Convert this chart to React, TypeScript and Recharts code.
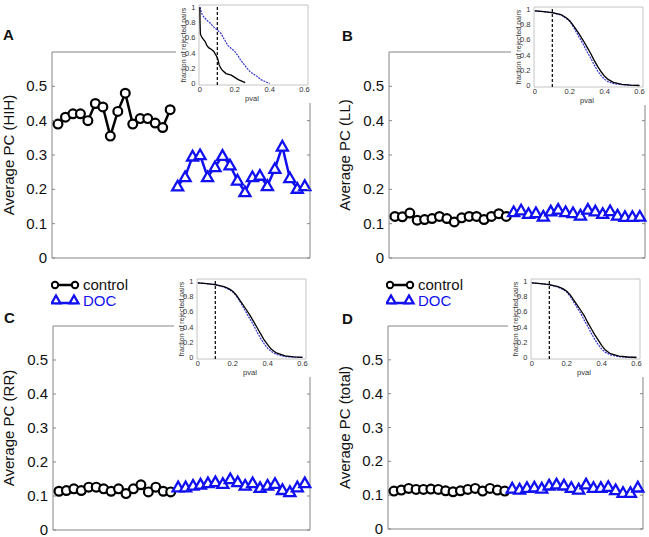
import React from "react";
import { LineChart, Line, XAxis, YAxis, ReferenceArea, ReferenceLine } from "recharts";

// ── Main panel values (average PC per recording) ───────────────────

const controlHIH = [0.39, 0.41, 0.42, 0.42, 0.4, 0.45, 0.44, 0.355, 0.427, 0.48, 0.39, 0.406, 0.406, 0.393, 0.38, 0.432];
const docHIH = [0.209, 0.236, 0.296, 0.3, 0.236, 0.265, 0.298, 0.27, 0.226, 0.192, 0.236, 0.24, 0.21, 0.26, 0.325, 0.233, 0.202, 0.21];

const controlLL = [0.121, 0.12, 0.131, 0.11, 0.112, 0.115, 0.121, 0.115, 0.105, 0.117, 0.121, 0.121, 0.112, 0.121, 0.129, 0.121];
const docLL = [0.134, 0.139, 0.129, 0.131, 0.121, 0.136, 0.141, 0.134, 0.131, 0.124, 0.141, 0.136, 0.129, 0.137, 0.124, 0.12, 0.12, 0.121];

const controlRR = [0.114, 0.116, 0.121, 0.116, 0.126, 0.126, 0.121, 0.114, 0.121, 0.107, 0.121, 0.133, 0.112, 0.126, 0.114, 0.112];
const docRR = [0.126, 0.126, 0.131, 0.134, 0.138, 0.141, 0.136, 0.15, 0.141, 0.131, 0.138, 0.124, 0.131, 0.136, 0.118, 0.112, 0.126, 0.138];

const controlTotal = [0.112, 0.115, 0.12, 0.117, 0.117, 0.118, 0.117, 0.113, 0.11, 0.113, 0.117, 0.12, 0.112, 0.12, 0.115, 0.112];
const docTotal = [0.12, 0.117, 0.122, 0.123, 0.12, 0.129, 0.132, 0.129, 0.122, 0.117, 0.132, 0.122, 0.122, 0.125, 0.115, 0.107, 0.107, 0.123];

const yTicks = [0, 0.1, 0.2, 0.3, 0.4, 0.5];

// ── Inset curves: [pval, fraction of rejected pairs] ───────────────

const insetHIHControl = [[0, 1], [0.001, 0.8], [0.003, 0.65], [0.01, 0.61], [0.02, 0.58], [0.03, 0.55], [0.04, 0.5], [0.05, 0.47], [0.065, 0.45], [0.08, 0.42], [0.09, 0.38], [0.1, 0.34], [0.105, 0.3], [0.11, 0.25], [0.12, 0.2], [0.13, 0.17], [0.15, 0.13], [0.18, 0.11], [0.2, 0.08], [0.22, 0.05], [0.24, 0.03], [0.26, 0.01]];
const insetHIHDoc = [[0, 1], [0.01, 0.92], [0.02, 0.88], [0.04, 0.83], [0.06, 0.79], [0.08, 0.74], [0.1, 0.7], [0.12, 0.66], [0.14, 0.58], [0.16, 0.5], [0.18, 0.46], [0.2, 0.42], [0.22, 0.36], [0.23, 0.32], [0.25, 0.26], [0.27, 0.2], [0.29, 0.15], [0.31, 0.12], [0.33, 0.09], [0.35, 0.05], [0.37, 0.03], [0.39, 0.01], [0.4, 0]];

const insetLLControl = [[0, 0.98], [0.05, 0.97], [0.1, 0.955], [0.15, 0.93], [0.18, 0.89], [0.2, 0.85], [0.22, 0.79], [0.25, 0.69], [0.28, 0.58], [0.3, 0.5], [0.32, 0.42], [0.34, 0.33], [0.36, 0.25], [0.38, 0.18], [0.4, 0.12], [0.42, 0.08], [0.45, 0.04], [0.5, 0.015], [0.55, 0.005], [0.6, 0]];
const insetLLDoc = [[0, 0.98], [0.05, 0.97], [0.1, 0.955], [0.15, 0.925], [0.18, 0.88], [0.2, 0.84], [0.22, 0.77], [0.25, 0.65], [0.28, 0.53], [0.3, 0.44], [0.32, 0.36], [0.34, 0.27], [0.36, 0.19], [0.38, 0.13], [0.4, 0.08], [0.42, 0.05], [0.45, 0.025], [0.5, 0.01], [0.55, 0.003], [0.6, 0]];

const insetRRControl = [[0, 0.98], [0.05, 0.97], [0.1, 0.955], [0.15, 0.93], [0.18, 0.9], [0.2, 0.87], [0.22, 0.82], [0.25, 0.72], [0.28, 0.62], [0.3, 0.55], [0.32, 0.47], [0.34, 0.39], [0.36, 0.31], [0.38, 0.23], [0.4, 0.17], [0.42, 0.11], [0.45, 0.06], [0.5, 0.02], [0.55, 0.007], [0.6, 0]];
const insetRRDoc = [[0, 0.98], [0.05, 0.97], [0.1, 0.955], [0.15, 0.925], [0.18, 0.89], [0.2, 0.86], [0.22, 0.81], [0.25, 0.7], [0.28, 0.58], [0.3, 0.5], [0.32, 0.42], [0.34, 0.33], [0.36, 0.25], [0.38, 0.18], [0.4, 0.12], [0.42, 0.08], [0.45, 0.04], [0.5, 0.012], [0.55, 0.004], [0.6, 0]];

const insetTotalControl = [[0, 0.98], [0.05, 0.97], [0.1, 0.955], [0.15, 0.93], [0.18, 0.9], [0.2, 0.87], [0.22, 0.82], [0.25, 0.72], [0.28, 0.62], [0.3, 0.55], [0.32, 0.46], [0.34, 0.38], [0.36, 0.3], [0.38, 0.23], [0.4, 0.16], [0.42, 0.1], [0.45, 0.05], [0.5, 0.018], [0.55, 0.006], [0.6, 0]];
const insetTotalDoc = [[0, 0.98], [0.05, 0.97], [0.1, 0.955], [0.15, 0.925], [0.18, 0.89], [0.2, 0.86], [0.22, 0.8], [0.25, 0.69], [0.28, 0.58], [0.3, 0.49], [0.32, 0.41], [0.34, 0.32], [0.36, 0.24], [0.38, 0.17], [0.4, 0.11], [0.42, 0.07], [0.45, 0.035], [0.5, 0.01], [0.55, 0.003], [0.6, 0]];

const insetXTicks = [0, 0.2, 0.4, 0.6];
const insetYTicks = [0, 0.2, 0.4, 0.6, 0.8, 1];

const FONT = "'Liberation Sans', Arial, Helvetica, sans-serif";
const BLUE = "#1010f0";
const AXIS = "#858585";

// ── Markers ────────────────────────────────────────────────────────

function triangle(cx: number, cy: number, hw: number, key?: any) {
  return (
    <polygon
      key={key}
      points={`${cx - hw},${cy + hw * 0.75} ${cx + hw},${cy + hw * 0.75} ${cx},${cy - hw}`}
      fill="#fff"
      stroke={BLUE}
      strokeWidth={2.3}
      strokeLinejoin="miter"
    />
  );
}

// ── Main panel ─────────────────────────────────────────────────────

function MainPanel({ chartLeft, plotLeft, plotTop, plotW, plotH, control, doc, yLabel, labelX }: any) {
  const YW = plotLeft - chartLeft;
  const MT = 5;
  const MB = 10;
  const pl = YW, pr = YW + plotW, pt = MT, pb = MT + plotH;
  const ctrlRows = control.map((v: number, i: number) => ({ x: i + 1, y: v }));
  const docRows = doc.map((v: number, i: number) => ({ x: control.length + i + 1, y: v }));
  const xTicks = [...ctrlRows, ...docRows].map((d) => d.x);

  const xTick = (p: any) => (
    <g>
      <line x1={p.x} x2={p.x} y1={pb} y2={pb - 3} stroke={AXIS} />
      <line x1={p.x} x2={p.x} y1={pt} y2={pt + 3} stroke={AXIS} />
    </g>
  );
  const yTick = (p: any) => (
    <g>
      <line x1={pl} x2={pl + 3} y1={p.y} y2={p.y} stroke={AXIS} />
      <line x1={pr} x2={pr - 3} y1={p.y} y2={p.y} stroke={AXIS} />
      <text x={pl - 5} y={p.y + 5} textAnchor="end" fontSize={15} fill="#111" fontFamily={FONT}>
        {p.payload.value}
      </text>
    </g>
  );

  return (
    <div style={{ position: "absolute", left: chartLeft, top: plotTop - MT }}>
      <LineChart width={plotW + YW + 5} height={plotH + MT + MB} margin={{ top: MT, right: 5, bottom: MB, left: 0 }}>
        <ReferenceArea x1={0.2} x2={34.7} y1={0} y2={0.6} fill="none" stroke={AXIS} strokeWidth={1} />
        <XAxis type="number" dataKey="x" domain={[0.2, 34.7]} ticks={xTicks} height={0} axisLine={false} tickLine={false} tick={xTick} interval={0} />
        <YAxis
          type="number"
          dataKey="y"
          domain={[0, 0.6]}
          ticks={yTicks}
          width={YW}
          axisLine={false}
          tickLine={false}
          tick={yTick}
          interval={0}
          label={{
            content: () => (
              <text
                transform={`translate(${labelX}, ${pt + plotH / 2}) rotate(-90)`}
                textAnchor="middle"
                fontSize={15}
                fill="#111"
                fontFamily={FONT}
              >
                {yLabel}
              </text>
            ),
          }}
        />
        <Line
          data={ctrlRows}
          dataKey="y"
          stroke="#000"
          strokeWidth={2.5}
          dot={{ r: 4.4, fill: "#fff", stroke: "#000", strokeWidth: 2.2 }}
          isAnimationActive={false}
        />
        <Line
          data={docRows}
          dataKey="y"
          stroke={BLUE}
          strokeWidth={2.5}
          dot={(p: any) => triangle(p.cx, p.cy, 5.5, p.index)}
          isAnimationActive={false}
        />
      </LineChart>
    </div>
  );
}

// ── Inset (fraction of rejected pairs vs pval) ─────────────────────

function Inset({ left, top, control, doc }: any) {
  const ctrl = control.map(([p, f]: number[]) => ({ p, f }));
  const dc = doc.map(([p, f]: number[]) => ({ p, f }));
  const small = { fontSize: 7.5, fill: "#333", fontFamily: FONT };

  return (
    <div style={{ position: "absolute", left, top, width: 140, height: 103, background: "#fff" }}>
      <LineChart width={140} height={103} margin={{ top: 5, right: 8, bottom: 0, left: 0 }}>
        <ReferenceArea x1={-0.005} x2={0.62} y1={-0.02} y2={1.03} fill="none" stroke="#c4c4c4" />
        <XAxis
          type="number"
          dataKey="p"
          domain={[-0.005, 0.62]}
          ticks={insetXTicks}
          height={18}
          axisLine={false}
          tickLine={false}
          interval={0}
          tick={(t: any) => (
            <text x={t.x} y={92} textAnchor="middle" {...small}>
              {t.payload.value}
            </text>
          )}
          label={{
            content: () => (
              <text x={76} y={101} textAnchor="middle" {...small}>
                pval
              </text>
            ),
          }}
        />
        <YAxis
          type="number"
          dataKey="f"
          domain={[-0.02, 1.03]}
          ticks={insetYTicks}
          width={23}
          axisLine={false}
          tickLine={false}
          interval={0}
          tick={(t: any) => (
            <text x={19.5} y={t.y + 2.6} textAnchor="end" {...small}>
              {t.payload.value}
            </text>
          )}
          label={{
            content: () => (
              <text transform="translate(9.5, 45) rotate(-90)" textAnchor="middle" fontSize={7} fill="#333" fontFamily={FONT}>
                fraction of rejected pairs
              </text>
            ),
          }}
        />
        <ReferenceLine x={0.1} stroke="#000" strokeDasharray="3 2" strokeWidth={1.2} />
        <Line data={dc} dataKey="f" stroke="#3232d8" strokeWidth={1.2} strokeDasharray="2 1" dot={false} isAnimationActive={false} />
        <Line data={ctrl} dataKey="f" stroke="#000" strokeWidth={1.3} dot={false} isAnimationActive={false} />
      </LineChart>
    </div>
  );
}

// ── Legend (panels C, D) ───────────────────────────────────────────

function LegendBox({ left, top }: any) {
  return (
    <svg style={{ position: "absolute", left, top }} width={110} height={40}>
      <line x1={4} x2={24} y1={11} y2={11} stroke="#000" strokeWidth={2.5} />
      <circle cx={4} cy={11} r={3.2} fill="#fff" stroke="#000" strokeWidth={2} />
      <circle cx={24} cy={11} r={3.2} fill="#fff" stroke="#000" strokeWidth={2} />
      <text x={32} y={16} fontSize={15} fill="#111" fontFamily={FONT}>control</text>
      <line x1={4} x2={24} y1={29} y2={29} stroke={BLUE} strokeWidth={2.5} />
      {triangle(5, 26, 4.5)}
      {triangle(23, 26, 4.5)}
      <text x={32} y={32} fontSize={15} fill={BLUE} fontFamily={FONT}>DOC</text>
    </svg>
  );
}

function Letter({ x, y, children }: any) {
  return (
    <div style={{ position: "absolute", left: x, top: y, fontFamily: FONT, fontWeight: "bold", fontSize: 15, lineHeight: "15px", color: "#111" }}>
      {children}
    </div>
  );
}

export default function App() {
  return (
    <div style={{ position: "absolute", left: 0, top: 0, width: 649, height: 537, background: "#fff", overflow: "hidden" }}>
      <MainPanel chartLeft={0} plotLeft={52} plotTop={52} plotW={258} plotH={206} control={controlHIH} doc={docHIH} yLabel="Average PC (HIH)" labelX={14} />
      <MainPanel chartLeft={330} plotLeft={389} plotTop={52} plotW={256} plotH={206} control={controlLL} doc={docLL} yLabel="Average PC (LL)" labelX={20} />
      <MainPanel chartLeft={0} plotLeft={53} plotTop={326} plotW={257} plotH={204} control={controlRR} doc={docRR} yLabel="Average PC (RR)" labelX={14} />
      <MainPanel chartLeft={330} plotLeft={388} plotTop={326} plotW={255} plotH={203} control={controlTotal} doc={docTotal} yLabel="Average PC (total)" labelX={20} />

      <Inset left={176} top={0} control={insetHIHControl} doc={insetHIHDoc} />
      <Inset left={511} top={2} control={insetLLControl} doc={insetLLDoc} />
      <Inset left={174} top={274} control={insetRRControl} doc={insetRRDoc} />
      <Inset left={508} top={274} control={insetTotalControl} doc={insetTotalDoc} />

      <LegendBox left={51} top={274} />
      <LegendBox left={386} top={274} />

      <Letter x={3} y={27}>A</Letter>
      <Letter x={342} y={28}>B</Letter>
      <Letter x={4} y={310}>C</Letter>
      <Letter x={342} y={311}>D</Letter>
    </div>
  );
}
